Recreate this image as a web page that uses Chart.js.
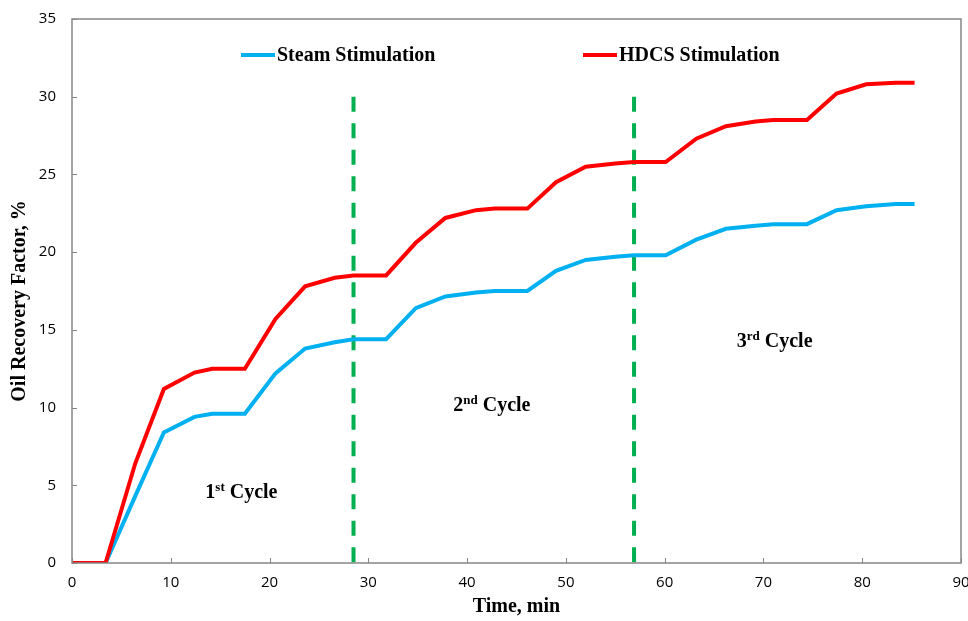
<!DOCTYPE html>
<html>
<head>
<meta charset="utf-8">
<script src="https://cdn.jsdelivr.net/npm/chart.js@4.4.1/dist/chart.umd.min.js"></script>
<style>
  html, body { margin: 0; padding: 0; background: #fff; }
  #wrap { width: 968px; height: 621px; }
</style>
</head>
<body>
<div id="wrap"><canvas id="chart"></canvas></div>
<script>
// time, min (shared by both series)
const timeMin = [0, 3.4, 6.4, 9.3, 12.4, 14.2, 17.5, 20.6, 23.6, 26.6, 28.5, 31.8, 34.8, 37.8, 40.9, 42.8,
    46.1, 49.0, 52.0, 55.0, 56.9, 60.1, 63.2, 66.2, 69.2, 71.0, 74.4, 77.4, 80.4, 83.4, 85.3];

const steamRF = [0, 0, 4.3, 8.4, 9.4, 9.6, 9.6, 12.2, 13.8, 14.2, 14.4, 14.4, 16.4, 17.15, 17.4, 17.5,
    17.5, 18.8, 19.5, 19.7, 19.8, 19.8, 20.8, 21.5, 21.7, 21.8, 21.8, 22.7, 22.95, 23.1, 23.1];

const hdcsRF = [0, 0, 6.4, 11.2, 12.25, 12.5, 12.5, 15.7, 17.8, 18.35, 18.5, 18.5, 20.6, 22.2, 22.7, 22.8,
    22.8, 24.5, 25.5, 25.7, 25.8, 25.8, 27.3, 28.1, 28.4, 28.5, 28.5, 30.2, 30.8, 30.9, 30.9];

// cycle boundaries (dashed green), drawn top -> bottom
const cycleBounds = [28.5, 56.9];
const cycleLineTop = 30;

// cycle labels: [number, suffix, x, y]
const cycleLabels = [
    ['1', 'st', 13.5, 4.2],
    ['2', 'nd', 38.6, 9.8],
    ['3', 'rd', 67.3, 13.9]
];

const xTicks = [0, 10, 20, 30, 40, 50, 60, 70, 80, 90];
const yTicks = [0, 5, 10, 15, 20, 25, 30, 35];

const BLUE = '#00B0F0';
const RED = '#FF0000';
const GREEN = '#00B050';
const AXIS = '#868686';
const SERIF = '"Liberation Serif", "Times New Roman", serif';

const toXY = (xs, ys) => xs.map((x, i) => ({ x: x, y: ys[i] }));

const datasets = [
    {
        label: 'Steam Stimulation',
        data: toXY(timeMin, steamRF),
        borderColor: BLUE,
        borderWidth: 4,
        pointRadius: 0,
        tension: 0,
        order: 1
    },
    {
        label: 'HDCS Stimulation',
        data: toXY(timeMin, hdcsRF),
        borderColor: RED,
        borderWidth: 4,
        pointRadius: 0,
        tension: 0,
        order: 0
    }
];

cycleBounds.forEach(cx => {
    datasets.push({
        label: 'cycle',
        data: [{ x: cx, y: cycleLineTop }, { x: cx, y: 0 }],
        borderColor: GREEN,
        borderWidth: 4,
        borderDash: [15, 11.5],
        pointRadius: 0,
        order: 2
    });
});

// frame, inner tick marks, legend and cycle captions
const decorPlugin = {
    id: 'decor',
    afterDatasetsDraw(chart) {
        const { ctx, chartArea: a, scales } = chart;
        ctx.save();

        // plot frame
        ctx.strokeStyle = AXIS;
        ctx.lineWidth = 1.5;
        ctx.strokeRect(a.left, a.top, a.right - a.left, a.bottom - a.top);

        // tick marks pointing inward
        ctx.lineWidth = 1;
        xTicks.forEach(v => {
            const px = Math.round(scales.x.getPixelForValue(v)) + 0.5;
            ctx.beginPath();
            ctx.moveTo(px, a.bottom);
            ctx.lineTo(px, a.bottom - 5);
            ctx.stroke();
        });
        yTicks.forEach(v => {
            const py = Math.round(scales.y.getPixelForValue(v)) + 0.5;
            ctx.beginPath();
            ctx.moveTo(a.left, py);
            ctx.lineTo(a.left + 5, py);
            ctx.stroke();
        });

        // legend inside plot
        const legendItems = [
            { text: datasets[0].label, color: BLUE, x: a.left + 169 },
            { text: datasets[1].label, color: RED, x: a.left + 511 }
        ];
        const ly = a.top + 36;
        ctx.font = 'bold 20px ' + SERIF;
        ctx.textBaseline = 'middle';
        ctx.textAlign = 'left';
        legendItems.forEach(it => {
            ctx.strokeStyle = it.color;
            ctx.lineWidth = 4;
            ctx.beginPath();
            ctx.moveTo(it.x, ly);
            ctx.lineTo(it.x + 34, ly);
            ctx.stroke();
            ctx.fillStyle = '#000';
            ctx.fillText(it.text, it.x + 36, ly + 1);
        });

        // cycle captions with superscripts
        ctx.textBaseline = 'alphabetic';
        cycleLabels.forEach(([num, sup, x, y]) => {
            let px = scales.x.getPixelForValue(x);
            const py = scales.y.getPixelForValue(y);
            ctx.font = 'bold 20px ' + SERIF;
            ctx.fillText(num, px, py);
            px += ctx.measureText(num).width;
            ctx.font = 'bold 13px ' + SERIF;
            ctx.fillText(sup, px, py - 7);
            px += ctx.measureText(sup).width;
            ctx.font = 'bold 20px ' + SERIF;
            ctx.fillText(' Cycle', px, py);
        });

        ctx.restore();
    }
};

new Chart(document.getElementById('chart'), {
    type: 'line',
    data: { datasets: datasets },
    options: {
        responsive: true,
        maintainAspectRatio: false,
        animation: false,
        layout: { padding: { left: 0, right: 0, top: 0, bottom: 2 } },
        plugins: {
            legend: { display: false },
            tooltip: { enabled: false }
        },
        scales: {
            x: {
                type: 'linear',
                min: 0,
                max: 90,
                afterBuildTicks: (axis) => { axis.ticks = xTicks.map(v => ({ value: v })); },
                afterFit: (axis) => { axis.paddingRight = 7; axis.paddingLeft = 0; },
                ticks: {
                    color: '#000',
                    font: { family: '"Open Sans", sans-serif', size: 15 },
                    padding: 11,
                    maxRotation: 0
                },
                grid: { display: false, drawTicks: false },
                border: { display: false },
                title: {
                    display: true,
                    text: 'Time, min',
                    color: '#000',
                    font: { family: SERIF, size: 20, weight: 'bold' },
                    padding: { top: -8, bottom: 0 }
                }
            },
            y: {
                type: 'linear',
                min: 0,
                max: 35,
                afterBuildTicks: (axis) => { axis.ticks = yTicks.map(v => ({ value: v })); },
                afterFit: (axis) => { axis.width = 72; axis.paddingTop = 19; axis.paddingBottom = 0; },
                ticks: {
                    color: '#000',
                    font: { family: '"Open Sans", sans-serif', size: 15 },
                    padding: 16
                },
                grid: { display: false, drawTicks: false },
                border: { display: false },
                title: {
                    display: true,
                    text: 'Oil Recovery Factor, %    ',
                    color: '#000',
                    font: { family: SERIF, size: 20, weight: 'bold' },
                    padding: { top: 8, bottom: 0 }
                }
            }
        }
    },
    plugins: [decorPlugin]
});
</script>
</body>
</html>
